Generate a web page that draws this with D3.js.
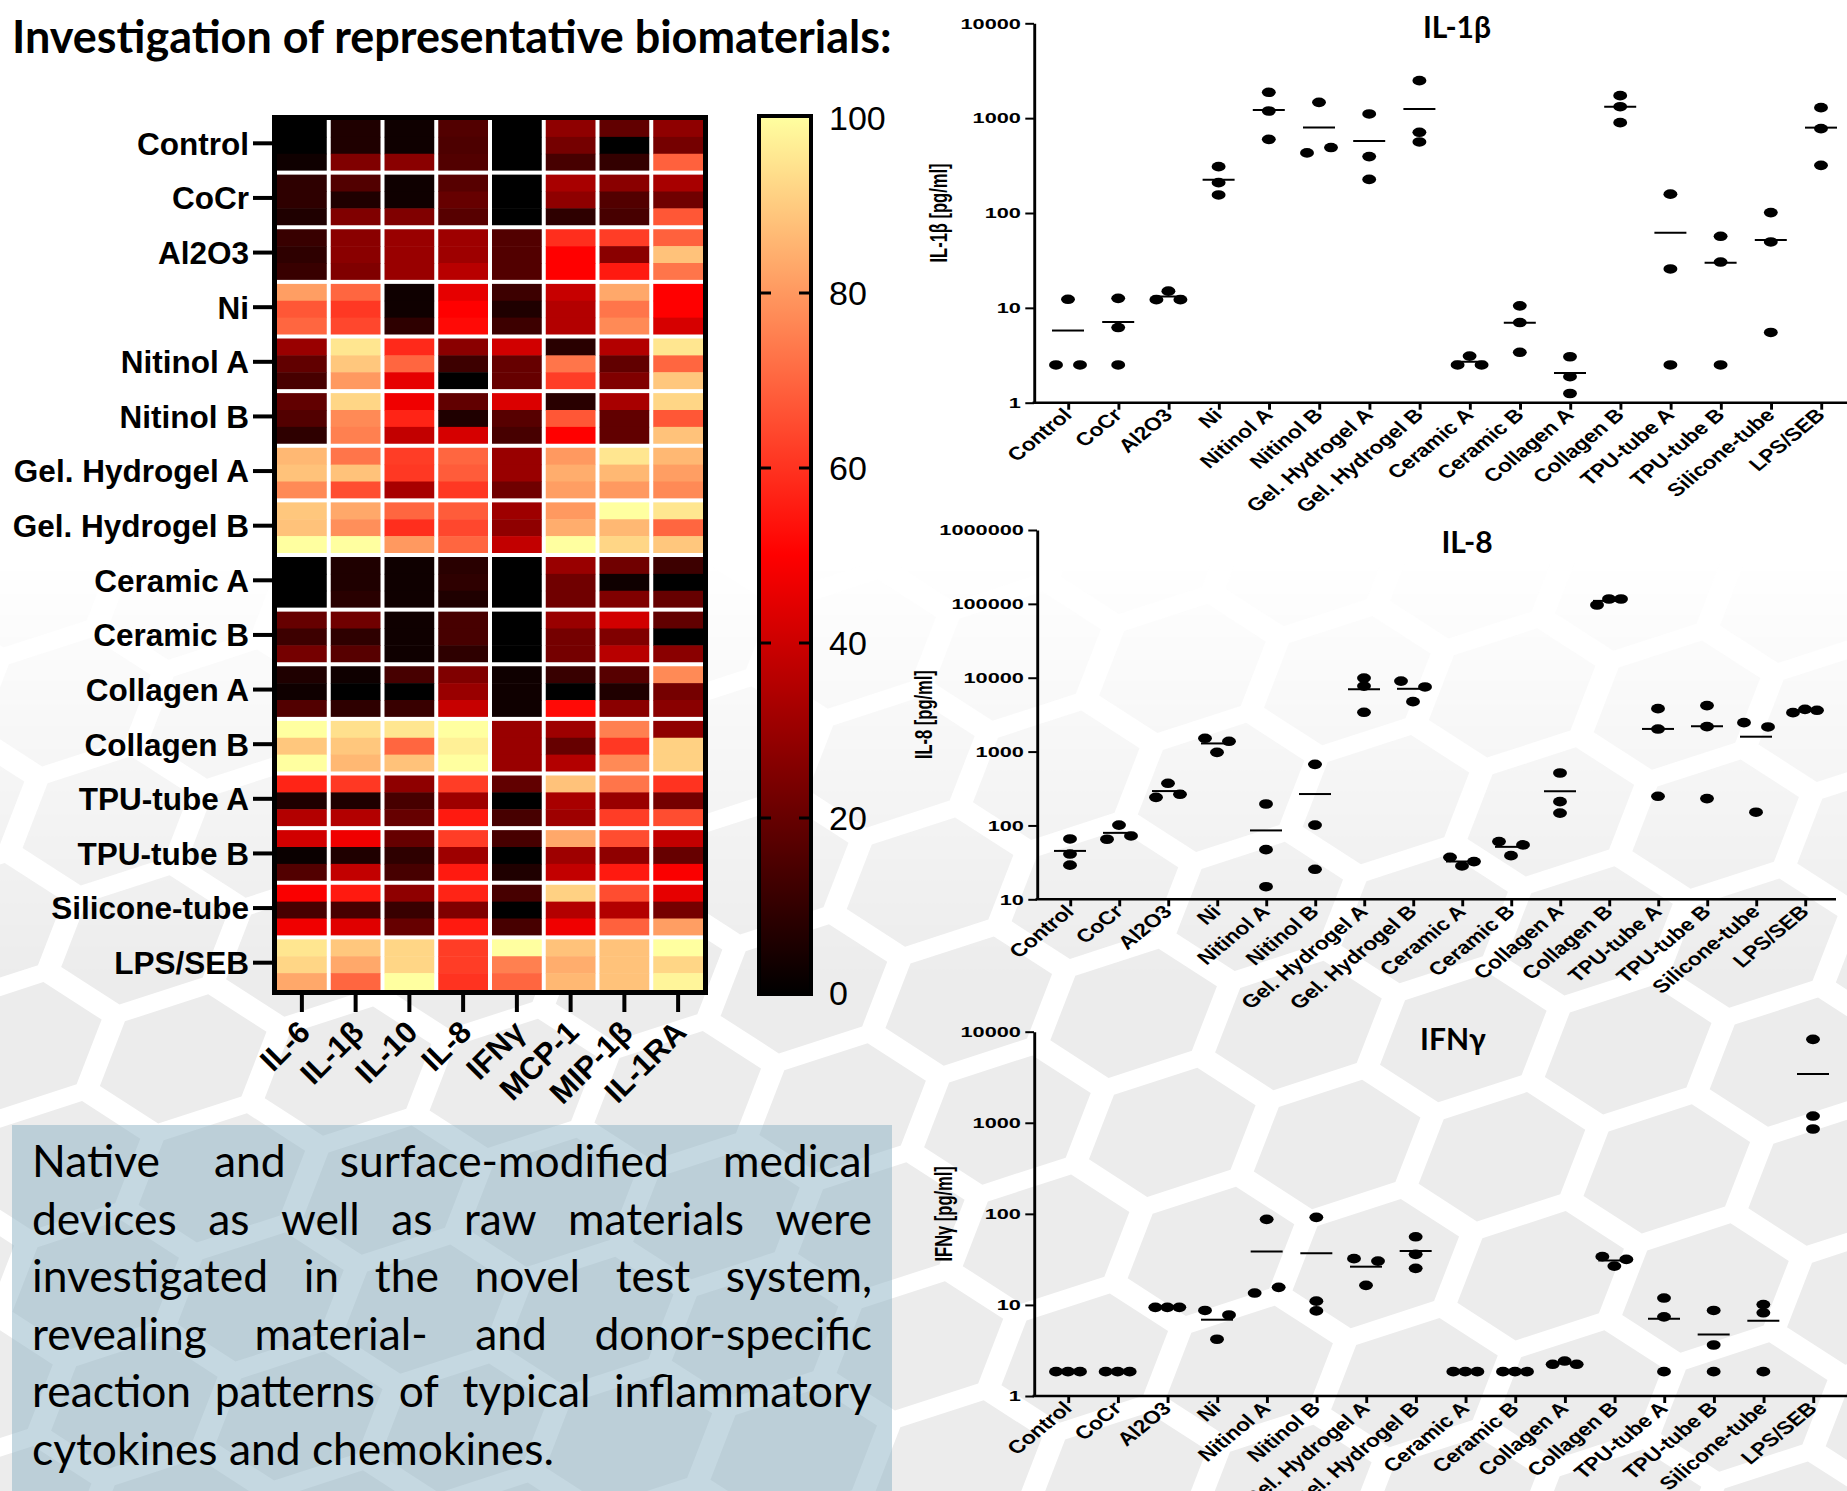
<!DOCTYPE html>
<meta charset="utf-8">
<style>
body { margin: 0; background: #fff; }
svg { display: block; }
</style>
<body>
<script src="https://d3js.org/d3.v7.min.js"></script>
<script>

// categories
var materials = ["Control", "CoCr", "Al2O3", "Ni", "Nitinol A", "Nitinol B", "Gel. Hydrogel A", "Gel. Hydrogel B",
  "Ceramic A", "Ceramic B", "Collagen A", "Collagen B", "TPU-tube A", "TPU-tube B", "Silicone-tube", "LPS/SEB"];
var cytokines = ["IL-6", "IL-1β", "IL-10", "IL-8", "IFNγ", "MCP-1", "MIP-1β", "IL-1RA"];

// heatmap, relative response 0-100, three donors per material (material after material)
var il6   = [0,0,3, 9,9,6, 11,9,11, 81,67,70, 30,19,14, 19,16,9, 86,88,77, 89,88,100, 0,0,0, 20,12,23, 6,3,16, 100,89,100, 57,6,35, 41,2,16, 49,14,47, 95,92,83];
var il1b  = [6,6,25, 16,6,25, 27,27,25, 70,61,64, 95,89,80, 92,77,75, 73,88,65, 83,78,100, 6,6,8, 22,9,17, 3,0,9, 94,89,86, 61,6,35, 47,6,38, 55,14,44, 89,83,70];
var il10  = [3,3,27, 3,3,25, 30,30,30, 3,3,9, 58,70,45, 47,57,38, 62,61,33, 70,59,80, 3,3,3, 3,3,3, 14,0,11, 95,70,88, 28,14,20, 20,9,14, 28,11,20, 92,92,100];
var il8   = [16,15,16, 17,20,17, 31,31,36, 45,50,52, 27,12,0, 19,6,42, 70,68,61, 68,64,70, 8,9,6, 14,14,9, 25,30,39, 100,97,100, 62,31,55, 62,31,55, 57,25,55, 62,62,60];
var ifng  = [0,0,0, 0,0,0, 16,16,16, 12,6,12, 41,20,20, 43,17,14, 30,30,22, 31,28,38, 0,0,0, 0,0,0, 3,3,3, 30,30,30, 19,0,14, 14,0,6, 14,0,14, 100,75,70];
var mcp1  = [28,23,14, 33,28,9, 59,50,50, 39,35,35, 8,73,62, 8,67,50, 80,84,81, 80,84,100, 30,22,22, 30,23,23, 11,0,52, 31,20,35, 88,33,31, 83,31,38, 91,35,47, 88,84,86];
var mip1b = [19,0,10, 27,16,14, 62,27,55, 83,73,77, 35,19,25, 33,19,19, 95,86,80, 100,86,92, 22,3,25, 41,25,36, 17,6,27, 75,61,77, 73,30,62, 65,28,55, 65,35,69, 88,88,88];
var il1ra = [28,23,69, 33,22,67, 69,88,73, 50,50,42, 95,70,89, 92,67,88, 86,81,77, 95,70,89, 12,0,20, 19,0,27, 77,23,27, 28,91,91, 60,23,65, 38,20,49, 45,23,81, 100,92,98];
var colorTicks = [0, 20, 40, 60, 80, 100];

// concentrations in pg/ml, three donors per material
var il1bConc = [[2.5,12.3,2.5], [12.6,6.2,2.5], [12.2,15,12.2], [308,209,155], [1873,1190,598], [430,1468,490],
  [1107,393,226], [2486,709,561], [2.5,3.1,2.5], [10.5,7.0,3.4], [3.05,1.88,1.25], [1727,1321,897],
  [158,25.7,2.5], [56.8,30.4,2.5], [101,49.5,5.5], [1290,775,318]];
var il8Conc = [[65.6,41,29], [65,101,72], [240,372,264], [1512,977,1377], [195,47,14.8], [672,101,25.5],
  [9900,7700,3400], [9000,4740,7500], [37,28.3,32.4], [60.4,39,54.5], [513,210,147], [96500,116400,116400],
  [3810,2020,248], [4190,2177,231], [2465,151,2155], [3365,3733,3620]];
var ifngConc = [[1.85,1.85,1.85], [1.85,1.85,1.85], [9.4,9.4,9.4], [8.7,4.2,7.75], [13.5,87,15.6], [91.5,11.0,8.6],
  [32.2,16.4,30.3], [56,35.9,25.2], [1.85,1.85,1.85], [1.85,1.85,1.85], [2.23,2.42,2.23], [33.9,26.7,31.6],
  [11.9,7.4,1.85], [8.7,3.63,1.85], [10.1,8.2,1.85], [8240,1186,854]];
var il1bTicks = [1, 10, 100, 1000, 10000];
var il8Ticks = [10, 100, 1000, 10000, 100000, 1000000];
var ifngTicks = [1, 10, 100, 1000, 10000];

var titleText = "Investigation of representative biomaterials:";
var boxLines = ["Native and surface-modified medical", "devices as well as raw materials were",
  "investigated in the novel test system,", "revealing material- and donor-specific",
  "reaction patterns of typical inflammatory", "cytokines and chemokines."];

var W = 1847, H = 1491;
var arial = "'Liberation Sans', Arial, sans-serif";
var svg = d3.select("body").append("svg")
    .attr("width", W).attr("height", H)
    .style("font-family", arial);
var defs = svg.append("defs");

// ---- background honeycomb, fading in towards the bottom
var fade = defs.append("linearGradient").attr("id", "fade")
    .attr("gradientUnits", "userSpaceOnUse").attr("x1", 0).attr("y1", 560).attr("x2", 0).attr("y2", 980);
fade.append("stop").attr("offset", 0).attr("stop-color", "#fff").attr("stop-opacity", 0);
fade.append("stop").attr("offset", 1).attr("stop-color", "#fff").attr("stop-opacity", 1);
defs.append("mask").attr("id", "hexmask").attr("maskUnits", "userSpaceOnUse")
    .attr("x", 0).attr("y", 0).attr("width", W).attr("height", H)
  .append("rect").attr("width", W).attr("height", H).attr("fill", "url(#fade)");

var R = 85, hexCenters = [];
for (var c = -8; c < 26; c++) {
  for (var r = -8; r < 28; r++) {
    hexCenters.push([c * 1.5 * R, r * Math.sqrt(3) * R + (c % 2 ? Math.sqrt(3) * R / 2 : 0)]);
  }
}
function hexPath(p) {
  var s = R - 12;
  return "M" + d3.range(6).map(function(k) {
    var a = Math.PI / 3 * k;
    return [p[0] + s * Math.cos(a), p[1] + s * Math.sin(a)];
  }).join("L") + "Z";
}
svg.append("g").attr("mask", "url(#hexmask)")
  .append("g").attr("transform", "rotate(-18) scale(1.2,0.85)")
  .selectAll("path").data(hexCenters).join("path")
    .attr("d", hexPath).attr("fill", "#ececec");

// ---- title
var title = svg.append("text")
    .attr("x", 12).attr("y", 53)
    .attr("font-family", "Lato, sans-serif").attr("font-weight", 700)
    .attr("font-size", 40).text(titleText);
title.attr("font-size", 40 * 880 / title.node().getComputedTextLength());

// ---- heatmap
function heatColor(v) {
  if (v <= 50) return d3.rgb(255 * v / 50, 0, 0);
  var t = (v - 50) / 50;
  return d3.rgb(255, 255 * t, 160 * t);
}
var heatCols = [il6, il1b, il10, il8, ifng, mcp1, mip1b, il1ra];
var gap = 4;
var hx = d3.scaleBand().domain(cytokines).range([277, 707]);
var hy = d3.scaleBand().domain(materials).range([120, 994]);
var rowH = (hy.bandwidth() - gap) / 3;

svg.append("rect").attr("x", 272).attr("y", 115).attr("width", 436).attr("height", 880).attr("fill", "#000");
svg.append("rect").attr("x", 277).attr("y", 120).attr("width", 426).attr("height", 870).attr("fill", "#fff");

var cells = [];
heatCols.forEach(function(col, ci) {
  col.forEach(function(v, k) {
    cells.push({cyt: cytokines[ci], mat: materials[Math.floor(k / 3)], donor: k % 3, v: v});
  });
});
svg.append("g").selectAll("rect").data(cells).join("rect")
    .attr("x", function(d) { return hx(d.cyt); })
    .attr("y", function(d) { return hy(d.mat) + d.donor * rowH; })
    .attr("width", hx.bandwidth() - gap)
    .attr("height", function(d) { return d.donor < 2 ? rowH + 0.5 : rowH; })
    .attr("fill", function(d) { return heatColor(d.v); });

// row ticks and labels
var rowMid = function(m) { return hy(m) + (hy.bandwidth() - gap) / 2 - 2; };
svg.append("g").selectAll("line").data(materials).join("line")
    .attr("x1", 253).attr("x2", 272)
    .attr("y1", rowMid).attr("y2", rowMid)
    .attr("stroke", "#000").attr("stroke-width", 4);
svg.append("g").selectAll("text").data(materials).join("text")
    .attr("x", 249).attr("y", rowMid).attr("dy", "0.36em")
    .attr("text-anchor", "end").attr("font-size", 31.5).attr("font-weight", 700)
    .text(function(d) { return d; });

// column ticks and labels
var colMid = function(c) { return hx(c) + (hx.bandwidth() - gap) / 2; };
svg.append("g").selectAll("line").data(cytokines).join("line")
    .attr("x1", colMid).attr("x2", colMid)
    .attr("y1", 995).attr("y2", 1012)
    .attr("stroke", "#000").attr("stroke-width", 4);
svg.append("g").selectAll("text").data(cytokines).join("text")
    .attr("transform", function(d) { return "translate(" + (colMid(d) + 10) + ",1034) rotate(-45)"; })
    .attr("text-anchor", "end").attr("font-size", 31).attr("font-weight", 700)
    .text(function(d) { return d; });

// ---- colour bar
var cb = d3.scaleLinear().domain([0, 100]).range([993, 118]);
var grad = defs.append("linearGradient").attr("id", "cbar")
    .attr("x1", 0).attr("y1", 1).attr("x2", 0).attr("y2", 0);
d3.range(0, 101, 10).forEach(function(v) {
  grad.append("stop").attr("offset", v / 100).attr("stop-color", heatColor(v));
});
svg.append("rect").attr("x", 759).attr("y", 116).attr("width", 52).attr("height", 878)
    .attr("fill", "url(#cbar)").attr("stroke", "#000").attr("stroke-width", 4);
var inner = colorTicks.slice(1, -1);
svg.append("g").selectAll("line").data(inner).join("line")
    .attr("x1", 761).attr("x2", 771).attr("y1", cb).attr("y2", cb)
    .attr("stroke", "#000").attr("stroke-width", 3);
svg.append("g").selectAll("line").data(inner).join("line")
    .attr("x1", 799).attr("x2", 809).attr("y1", cb).attr("y2", cb)
    .attr("stroke", "#000").attr("stroke-width", 3);
svg.append("g").selectAll("text").data(colorTicks).join("text")
    .attr("x", 829).attr("y", cb).attr("dy", "0.36em")
    .attr("font-size", 34).text(function(d) { return d; });

// ---- dot plots (the pasted graphs are stretched horizontally)
var sx = 1.45;

// points that sit on nearly the same height are put side by side
function spread(vals, y) {
  var py = vals.map(y), grp = vals.map(function(d, i) { return i; });
  for (var i = 0; i < vals.length; i++) {
    for (var j = i + 1; j < vals.length; j++) {
      if (Math.abs(py[i] - py[j]) < 7.1) {
        var a = grp[j], b = grp[i];
        grp = grp.map(function(g) { return g === a ? b : g; });
      }
    }
  }
  var off = vals.map(function() { return 0; });
  d3.group(d3.range(vals.length), function(i) { return grp[i]; }).forEach(function(idx) {
    var slots = idx.length === 2 ? [-1, 1] : idx.length === 3 ? [-1, 0, 1] : [0];
    idx.forEach(function(i, k) { off[i] = slots[k]; });
  });
  return off;
}

function drawScatter(cfg) {
  svg.append("text")
      .attr("x", cfg.titleX).attr("y", cfg.titleY)
      .attr("text-anchor", "middle").attr("font-family", "Lato, sans-serif")
      .attr("font-weight", 700).attr("font-size", 30).text(cfg.title);

  var g = svg.append("g")
      .attr("transform", "translate(" + cfg.axisX + ",0) scale(" + sx + ",1)");
  var x = d3.scalePoint().domain(materials)
      .range([(cfg.x0 - cfg.axisX) / sx, (cfg.x1 - cfg.axisX) / sx]);
  var y = d3.scaleLog().domain(d3.extent(cfg.ticks)).range([cfg.yBot, cfg.yTop]);
  var xEnd = (cfg.xEnd - cfg.axisX) / sx;

  g.append("text")
      .attr("transform", "translate(" + (cfg.labelX - cfg.axisX) / sx + "," + (cfg.yTop + cfg.yBot) / 2 + ") rotate(-90)")
      .attr("text-anchor", "middle").attr("font-size", 16.5).attr("font-weight", 700)
      .text(cfg.label);

  var ya = g.append("g")
      .call(d3.axisLeft(y).tickValues(cfg.ticks).tickFormat(d3.format("d")).tickSize(6).tickPadding(3).tickSizeOuter(0));
  ya.attr("font-family", null).attr("font-size", null);
  ya.select(".domain").attr("stroke-width", 2);
  ya.selectAll(".tick line").attr("stroke-width", 2);
  ya.selectAll(".tick text").attr("font-size", 15).attr("font-weight", 700);

  var xa = g.append("g").attr("transform", "translate(0," + cfg.yBot + ")")
      .call(d3.axisBottom(x).tickSize(7).tickFormat(""));
  xa.select(".domain").remove();
  xa.append("line").attr("x1", -1).attr("x2", xEnd).attr("stroke", "#000").attr("stroke-width", 2.5);
  xa.selectAll(".tick line").attr("stroke-width", 2);

  g.append("g").selectAll("text").data(materials).join("text")
      .attr("transform", function(d) { return "translate(" + (x(d) + 4) + "," + (cfg.yBot + 13) + ") rotate(-50)"; })
      .attr("text-anchor", "end").attr("font-size", 17)
      .attr("font-weight", 700).attr("font-style", "italic")
      .text(function(d) { return d; });

  cfg.data.forEach(function(vals, i) {
    var cx = x(materials[i]);
    var my = y(d3.mean(vals));
    g.append("line")
        .attr("x1", cx - 16 / sx).attr("x2", cx + 16 / sx)
        .attr("y1", my).attr("y2", my)
        .attr("stroke", "#000").attr("stroke-width", 2);
    var off = spread(vals, y);
    g.append("g").selectAll("circle").data(vals).join("circle")
        .attr("cx", function(d, j) { return cx + off[j] * 12 / sx; })
        .attr("cy", function(d) { return y(d); })
        .attr("r", 4.8).attr("fill", "#000");
  });
}

drawScatter({data: il1bConc, ticks: il1bTicks, title: "IL-1β", label: "IL-1β [pg/ml]",
  axisX: 1034, x0: 1068, x1: 1821, xEnd: 1847, yTop: 23.3, yBot: 402.7,
  titleX: 1457, titleY: 38, labelX: 947});
drawScatter({data: il8Conc, ticks: il8Ticks, title: "IL-8", label: "IL-8 [pg/ml]",
  axisX: 1037, x0: 1070, x1: 1805, xEnd: 1836, yTop: 530, yBot: 899.3,
  titleX: 1467, titleY: 553, labelX: 932});
drawScatter({data: ifngConc, ticks: ifngTicks, title: "IFNγ", label: "IFNγ [pg/ml]",
  axisX: 1034, x0: 1068, x1: 1813, xEnd: 1847, yTop: 1031.7, yBot: 1396,
  titleX: 1453, titleY: 1050, labelX: 952});

// ---- text box
svg.append("rect").attr("x", 12).attr("y", 1125).attr("width", 880).attr("height", H - 1125)
    .attr("fill", "#95b8c8").attr("fill-opacity", 0.55);

var tb = svg.append("g").attr("font-family", "Lato, sans-serif").attr("fill", "#000");
var probe = tb.append("text").attr("font-size", 100).text(boxLines[boxLines.length - 1]);
var fs = 100 * 522 / probe.node().getComputedTextLength();
probe.remove();

boxLines.forEach(function(line, li) {
  var yLine = 1177 + li * 57.6;
  var words = line.split(" ");
  var t = tb.append("text").attr("y", yLine).attr("font-size", fs);
  if (li === boxLines.length - 1) {
    t.attr("x", 32).text(line);
    return;
  }
  var widths = words.map(function(w) {
    var p = tb.append("text").attr("font-size", fs).text(w);
    var wd = p.node().getComputedTextLength();
    p.remove();
    return wd;
  });
  var space = (840 - d3.sum(widths)) / (words.length - 1);
  var xPos = 32;
  words.forEach(function(w, k) {
    t.append("tspan").attr("x", xPos).text(w);
    xPos += widths[k] + space;
  });
});

</script>
</body>
